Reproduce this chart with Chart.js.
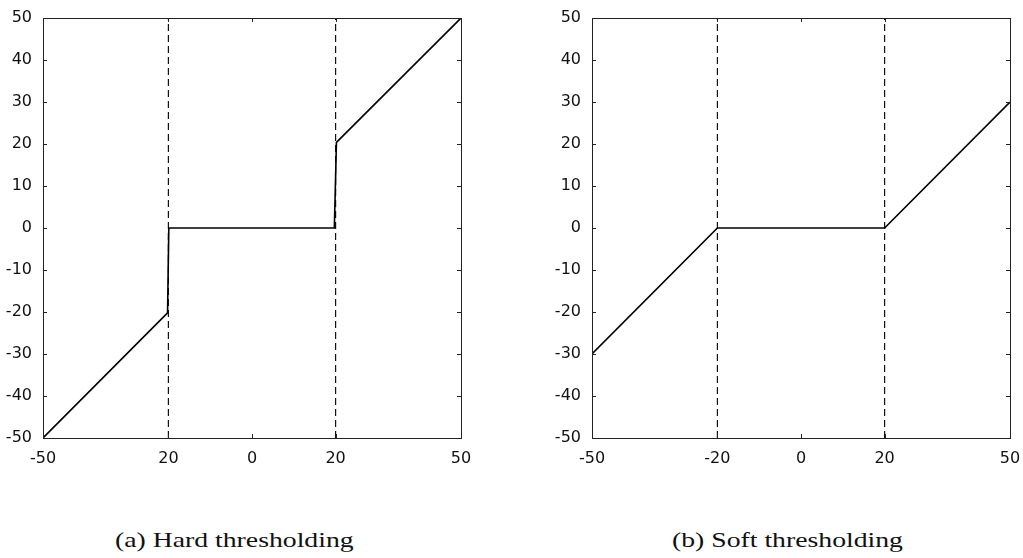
<!DOCTYPE html>
<html>
<head>
<meta charset="utf-8">
<script src="https://cdn.jsdelivr.net/npm/chart.js@4.4.1/dist/chart.umd.min.js"></script>
<style>
  body { margin: 0; background: #fff; width: 1023px; height: 558px; overflow: hidden; position: relative; }
  .panel { position: absolute; top: 0; width: 500px; height: 480px; }
  .caption {
    position: absolute; top: 528px; white-space: nowrap;
    font-family: "Liberation Serif", "DejaVu Serif", serif; font-size: 21px; color: #111;
    transform: scaleX(1.32); transform-origin: left center;
  }
</style>
</head>
<body>
<div class="panel" style="left:0"><canvas id="chart-hard"></canvas></div>
<div class="panel" style="left:549px"><canvas id="chart-soft"></canvas></div>
<div class="caption" style="left:115px">(a) Hard thresholding</div>
<div class="caption" style="left:672px">(b) Soft thresholding</div>

<script>
// threshold at +/-20, input and output both span -50..50
const THRESHOLDS = [-20, 20];
const AXIS_MIN = -50;
const AXIS_MAX = 50;

const xTicks = [-50, -20, 0, 20, 50];
const yTicks = [-50, -40, -30, -20, -10, 0, 10, 20, 30, 40, 50];
const hardXLabels = ["-50", "20", "0", "20", "50"];
const softXLabels = ["-50", "-20", "0", "20", "50"];

const hardX = [-50, -20.2, -19.9, 19.7, 20.2, 50];
const hardY = [-50, -20.2, 0, 0, 20.4, 50];

const softX = [-50, -20, 20, 50];
const softY = [-30, 0, 0, 30];

const FONT = { family: "'DejaVu Sans', 'Liberation Sans', sans-serif", size: 16 };

function toPoints(xs, ys) {
  return xs.map((x, i) => ({ x: x, y: ys[i] }));
}

// box around the plot area with short inward ticks on every side
const frame = {
  id: "frame",
  afterDatasetsDraw(chart) {
    const { ctx, chartArea: a, scales } = chart;
    const len = 4;
    ctx.save();
    ctx.strokeStyle = "#222";
    ctx.lineWidth = 1;
    ctx.strokeRect(a.left + 0.5, a.top + 0.5, a.width, a.height);
    ctx.beginPath();
    scales.x.ticks.forEach((t) => {
      const px = Math.round(scales.x.getPixelForValue(t.value)) + 0.5;
      ctx.moveTo(px, a.bottom);
      ctx.lineTo(px, a.bottom - len);
      ctx.moveTo(px, a.top);
      ctx.lineTo(px, a.top + len);
    });
    scales.y.ticks.forEach((t) => {
      const py = Math.round(scales.y.getPixelForValue(t.value)) + 0.5;
      ctx.moveTo(a.left, py);
      ctx.lineTo(a.left + len, py);
      ctx.moveTo(a.right, py);
      ctx.lineTo(a.right - len, py);
    });
    ctx.stroke();
    ctx.restore();
  },
};

function thresholdLine(t) {
  return {
    data: [{ x: t, y: AXIS_MIN }, { x: t, y: AXIS_MAX }],
    borderColor: "#111",
    borderWidth: 1.2,
    borderDash: [7, 4],
    showLine: true,
    pointRadius: 0,
  };
}

function makeChart(id, xs, ys, xLabels) {
  return new Chart(document.getElementById(id), {
    type: "scatter",
    data: {
      datasets: [
        {
          data: toPoints(xs, ys),
          borderColor: "#000",
          borderWidth: 1.6,
          showLine: true,
          pointRadius: 0,
          tension: 0,
        },
        ...THRESHOLDS.map(thresholdLine),
      ],
    },
    options: {
      responsive: true,
      maintainAspectRatio: false,
      animation: false,
      layout: { padding: { top: 18, right: 39, left: 0, bottom: 0 } },
      plugins: { legend: { display: false }, tooltip: { enabled: false } },
      scales: {
        x: {
          type: "linear",
          min: AXIS_MIN,
          max: AXIS_MAX,
          afterBuildTicks: (s) => { s.ticks = xTicks.map((v) => ({ value: v })); },
          afterFit: (s) => { s.height = 42; },
          grid: { display: false },
          border: { display: false },
          ticks: {
            color: "#111",
            font: FONT,
            padding: 3,
            maxRotation: 0,
            autoSkip: false,
            callback: (v, i) => xLabels[i],
          },
        },
        y: {
          type: "linear",
          min: AXIS_MIN,
          max: AXIS_MAX,
          afterBuildTicks: (s) => { s.ticks = yTicks.map((v) => ({ value: v })); },
          afterFit: (s) => { s.width = 43; },
          grid: { display: false },
          border: { display: false },
          ticks: { color: "#111", font: FONT, padding: 3, autoSkip: false },
        },
      },
    },
    plugins: [frame],
  });
}

makeChart("chart-hard", hardX, hardY, hardXLabels);
makeChart("chart-soft", softX, softY, softXLabels);
</script>
</body>
</html>
